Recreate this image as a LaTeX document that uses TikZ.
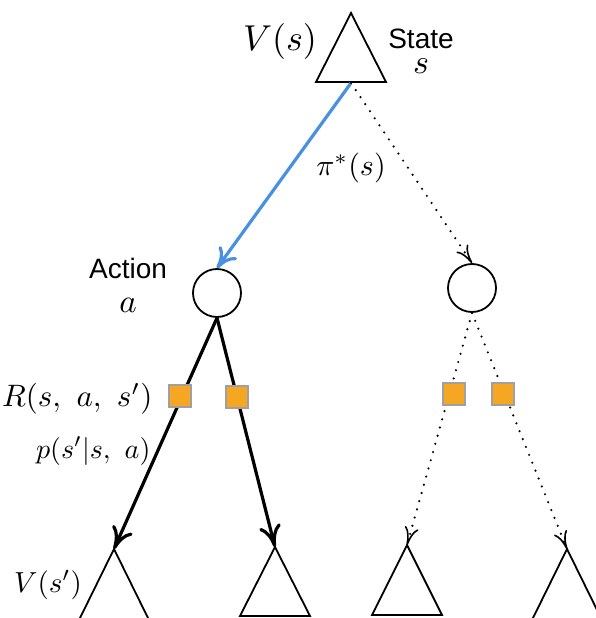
\documentclass[tikz,border=0pt]{standalone}
\usepackage{fontspec}
\newfontfamily\sansfnt{Liberation Sans}
\usetikzlibrary{arrows.meta}
\definecolor{arrowblue}{RGB}{74,144,226}
\definecolor{rewardorange}{RGB}{245,166,35}
\definecolor{boxgray}{RGB}{160,160,160}
\tikzset{
  tri/.style={draw=black, line width=1.8pt, line join=miter},
  actnode/.style={circle, draw=black, line width=1.8pt, minimum size=48pt, inner sep=0pt},
  rewardbox/.style={rectangle, draw=boxgray, line width=1.3pt, fill=rewardorange, minimum size=22pt, inner sep=0pt},
  solidarrow/.style={draw=black, line width=3.2pt, -{Computer Modern Rightarrow[length=22pt,width=22pt]}},
  bluearrow/.style={draw=arrowblue, line width=3.2pt, -{Computer Modern Rightarrow[length=20pt,width=22pt]}},
  dotarrow/.style={draw=black, line width=2.4pt, line cap=round, dash pattern=on 0pt off 8.5pt, -{Computer Modern Rightarrow[length=18pt,width=14pt,line width=1.6pt]}},
  sanslabel/.style={inner sep=0pt, font=\sansfnt\fontsize{28}{30}\selectfont},
  mathlabel/.style={inner sep=0pt, font=\fontsize{10}{12}\selectfont}
}
\begin{document}
\begin{tikzpicture}[x=1pt,y=-1pt]
\useasboundingbox (0,0) rectangle (595,618);

% top state triangle
\coordinate (sapex) at (351,13);
\coordinate (sbase) at (351,83);
\draw[tri] (sapex) -- (316,82) -- (386,82) -- cycle;

% action nodes
\node[actnode] (a1) at (217,293) {};
\node[actnode] (a2) at (472,288) {};

% bottom triangles (apex coordinates)
\coordinate (t1) at (114,549);
\coordinate (t2) at (275,547);
\coordinate (t3) at (407,545);
\coordinate (t4) at (567,549);
\draw[tri] (t1) -- (79,620) -- (149,620) -- cycle;
\draw[tri] (t2) -- (240,616) -- (310,616) -- cycle;
\draw[tri] (t3) -- (372,615) -- (442,615) -- cycle;
\draw[tri] (t4) -- (532,620) -- (602,620) -- cycle;

% connectors
\draw[bluearrow] (sbase) -- (a1.north);
\draw[dotarrow] (sbase) -- (a2.north);
\draw[solidarrow] (a1.south) -- (t1);
\draw[solidarrow] (a1.south) -- (t2);
\draw[dotarrow] (a2.south) -- (t3);
\draw[dotarrow] (a2.south) -- (t4);

% reward squares
\node[rewardbox] (r1) at (180,396) {};
\node[rewardbox] (r2) at (237,397) {};
\node[rewardbox] (r3) at (454,394) {};
\node[rewardbox] (r4) at (503,394) {};

% labels
\node[mathlabel, scale=3.6] (vs) at (280,42) {$V(s)$};
\node[sanslabel, align=center, anchor=north] (state) at (421,29) {State\\[-5pt]\scalebox{3.4}{\fontsize{10}{12}\selectfont$s$}};
\node[mathlabel, scale=3.0] (pi) at (351,168) {$\pi^*(s)$};
\node[sanslabel] (action) at (128,268) {Action};
\node[mathlabel, scale=3.3] (avar) at (128,305) {$a$};
\node[mathlabel, scale=3.1, anchor=east] (rlab) at (153,399) {$R(s,\ a,\ s')$};
\node[mathlabel, scale=2.8, anchor=east] (plab) at (151,451) {$p(s'|s,\ a)$};
\node[mathlabel, scale=2.9] (vsp) at (48,585) {$V(s')$};
\end{tikzpicture}
\end{document}
